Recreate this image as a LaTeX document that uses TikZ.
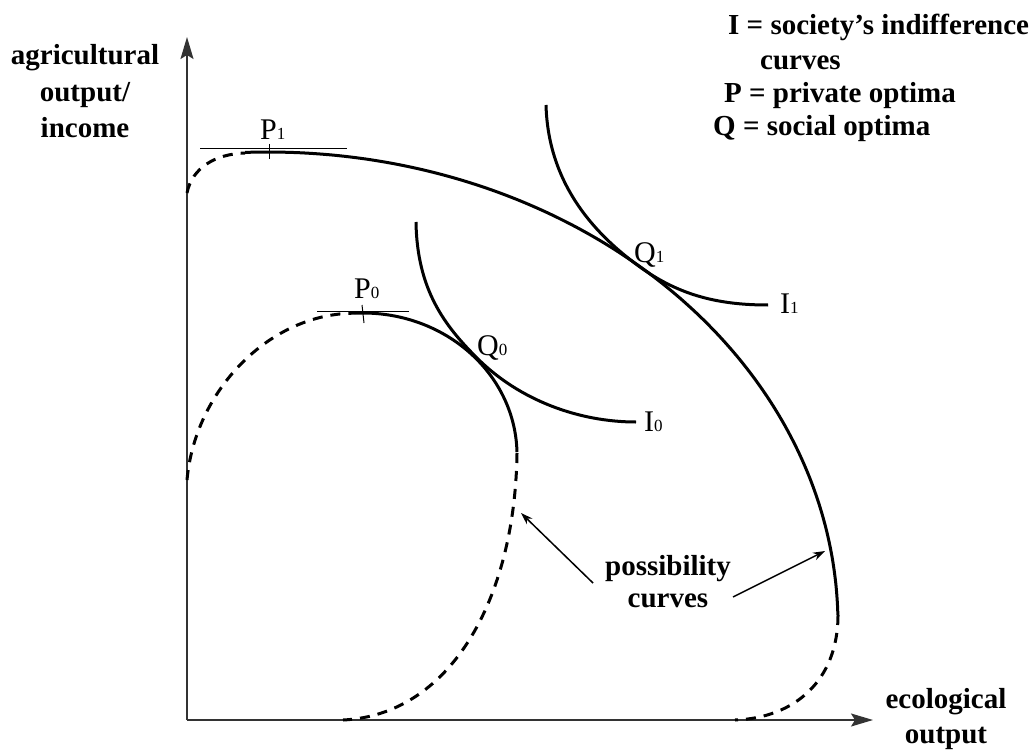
\documentclass[tikz,border=0pt]{standalone}
\usepackage{fontspec}
\setmainfont{Liberation Serif}
\usetikzlibrary{arrows.meta}
\newcommand\lsub[2]{#1{\fontsize{17}{17}\selectfont #2}}
\begin{document}
\begin{tikzpicture}[x=1pt,y=-1pt,
  curve/.style={line width=3pt},
  dashcurve/.style={line width=3pt, dash pattern=on 10pt off 8pt},
  axis/.style={line width=1.6pt, draw=black!80, -{Stealth[length=22pt,width=13pt,inset=4pt]}},
  tline/.style={line width=1pt},
  lbl/.style={font=\fontsize{29}{36}\selectfont\bfseries, inner sep=0pt, anchor=base},
  leg/.style={font=\fontsize{29}{36}\selectfont\bfseries, inner sep=0pt, anchor=base west},
  ptlbl/.style={font=\fontsize{30}{30}\selectfont, inner sep=0pt, anchor=base west},
  pointer/.style={line width=1.5pt, -{Stealth[length=12pt,width=8pt]}}
]
\useasboundingbox (0,0) rectangle (1032,751);
% axes
\coordinate (O) at (187,720);
\coordinate (Ytip) at (187,37);
\coordinate (Xtip) at (873,720);
\draw[axis] (O) -- (Ytip);
\draw[axis] (O) -- (Xtip);
% outer possibility curve
\draw[dashcurve] (187,193) .. controls (192,168) and (215,154) .. (245,153);
\draw[curve] plot[domain=267.7:358.8, samples=120, smooth] ({268+570*cos(\x)}, {625+473*sin(\x)});
\draw[dashcurve] (838,615) .. controls (838,680) and (795,718) .. (735,720);
% inner possibility curve
\draw[dashcurve] (187,480) .. controls (195,390) and (270,313) .. (355,313.2);
\draw[curve] plot[domain=267:358.8, samples=100, smooth] ({363+154*cos(\x)}, {455+142*sin(\x)});
\draw[dashcurve] (517,453) .. controls (515,600) and (450,715) .. (343,720);
% indifference curves
\draw[curve] (546,105) .. controls (548,180) and (590,231) .. (640,267) .. controls (680,296) and (720,305) .. (768,305);
\draw[curve] (416,222) .. controls (417,290) and (445,326) .. (477,358) .. controls (520,401) and (580,422) .. (636,422);
% tangent lines at private optima
\draw[tline] (200,149) -- (347,149);
\draw[tline] (269,144) -- (269,159);
\draw[tline] (317,311) -- (409,311);
\draw[tline] (362,305) -- (364,323);
% point labels
\node[ptlbl] (P1) at (260,140) {\lsub{P}{1}};
\node[ptlbl] (P0) at (354,298) {\lsub{P}{0}};
\node[ptlbl] (Q0) at (477,355) {\lsub{Q}{0}};
\node[ptlbl] (Q1) at (634,262) {\lsub{Q}{1}};
\node[ptlbl] (I1) at (780,313) {\lsub{I}{1}};
\node[ptlbl] (I0) at (644,431) {\lsub{I}{0}};
% axis labels
\node[lbl] (yl1) at (85,65) {agricultural};
\node[lbl] (yl2) at (85,102) {output/};
\node[lbl] (yl3) at (85,138) {income};
\node[lbl] (xl1) at (946,708) {ecological};
\node[lbl] (xl2) at (946,743) {output};
% possibility curves label
\node[lbl] (pc1) at (668,575) {possibility};
\node[lbl] (pc2) at (668,607) {curves};
\coordinate (ps1) at (593,583);
\coordinate (pt1) at (521,513);
\coordinate (ps2) at (733,597);
\coordinate (pt2) at (825,551);
\draw[pointer] (ps1) -- (pt1);
\draw[pointer] (ps2) -- (pt2);
% legend
\node[leg] (lg1) at (728,35) {I = society’s indifference};
\node[leg] (lg2) at (760,70) {curves};
\node[leg] (lg3) at (724,103) {P = private optima};
\node[leg] (lg4) at (713,136) {Q = social optima};
\end{tikzpicture}
\end{document}
